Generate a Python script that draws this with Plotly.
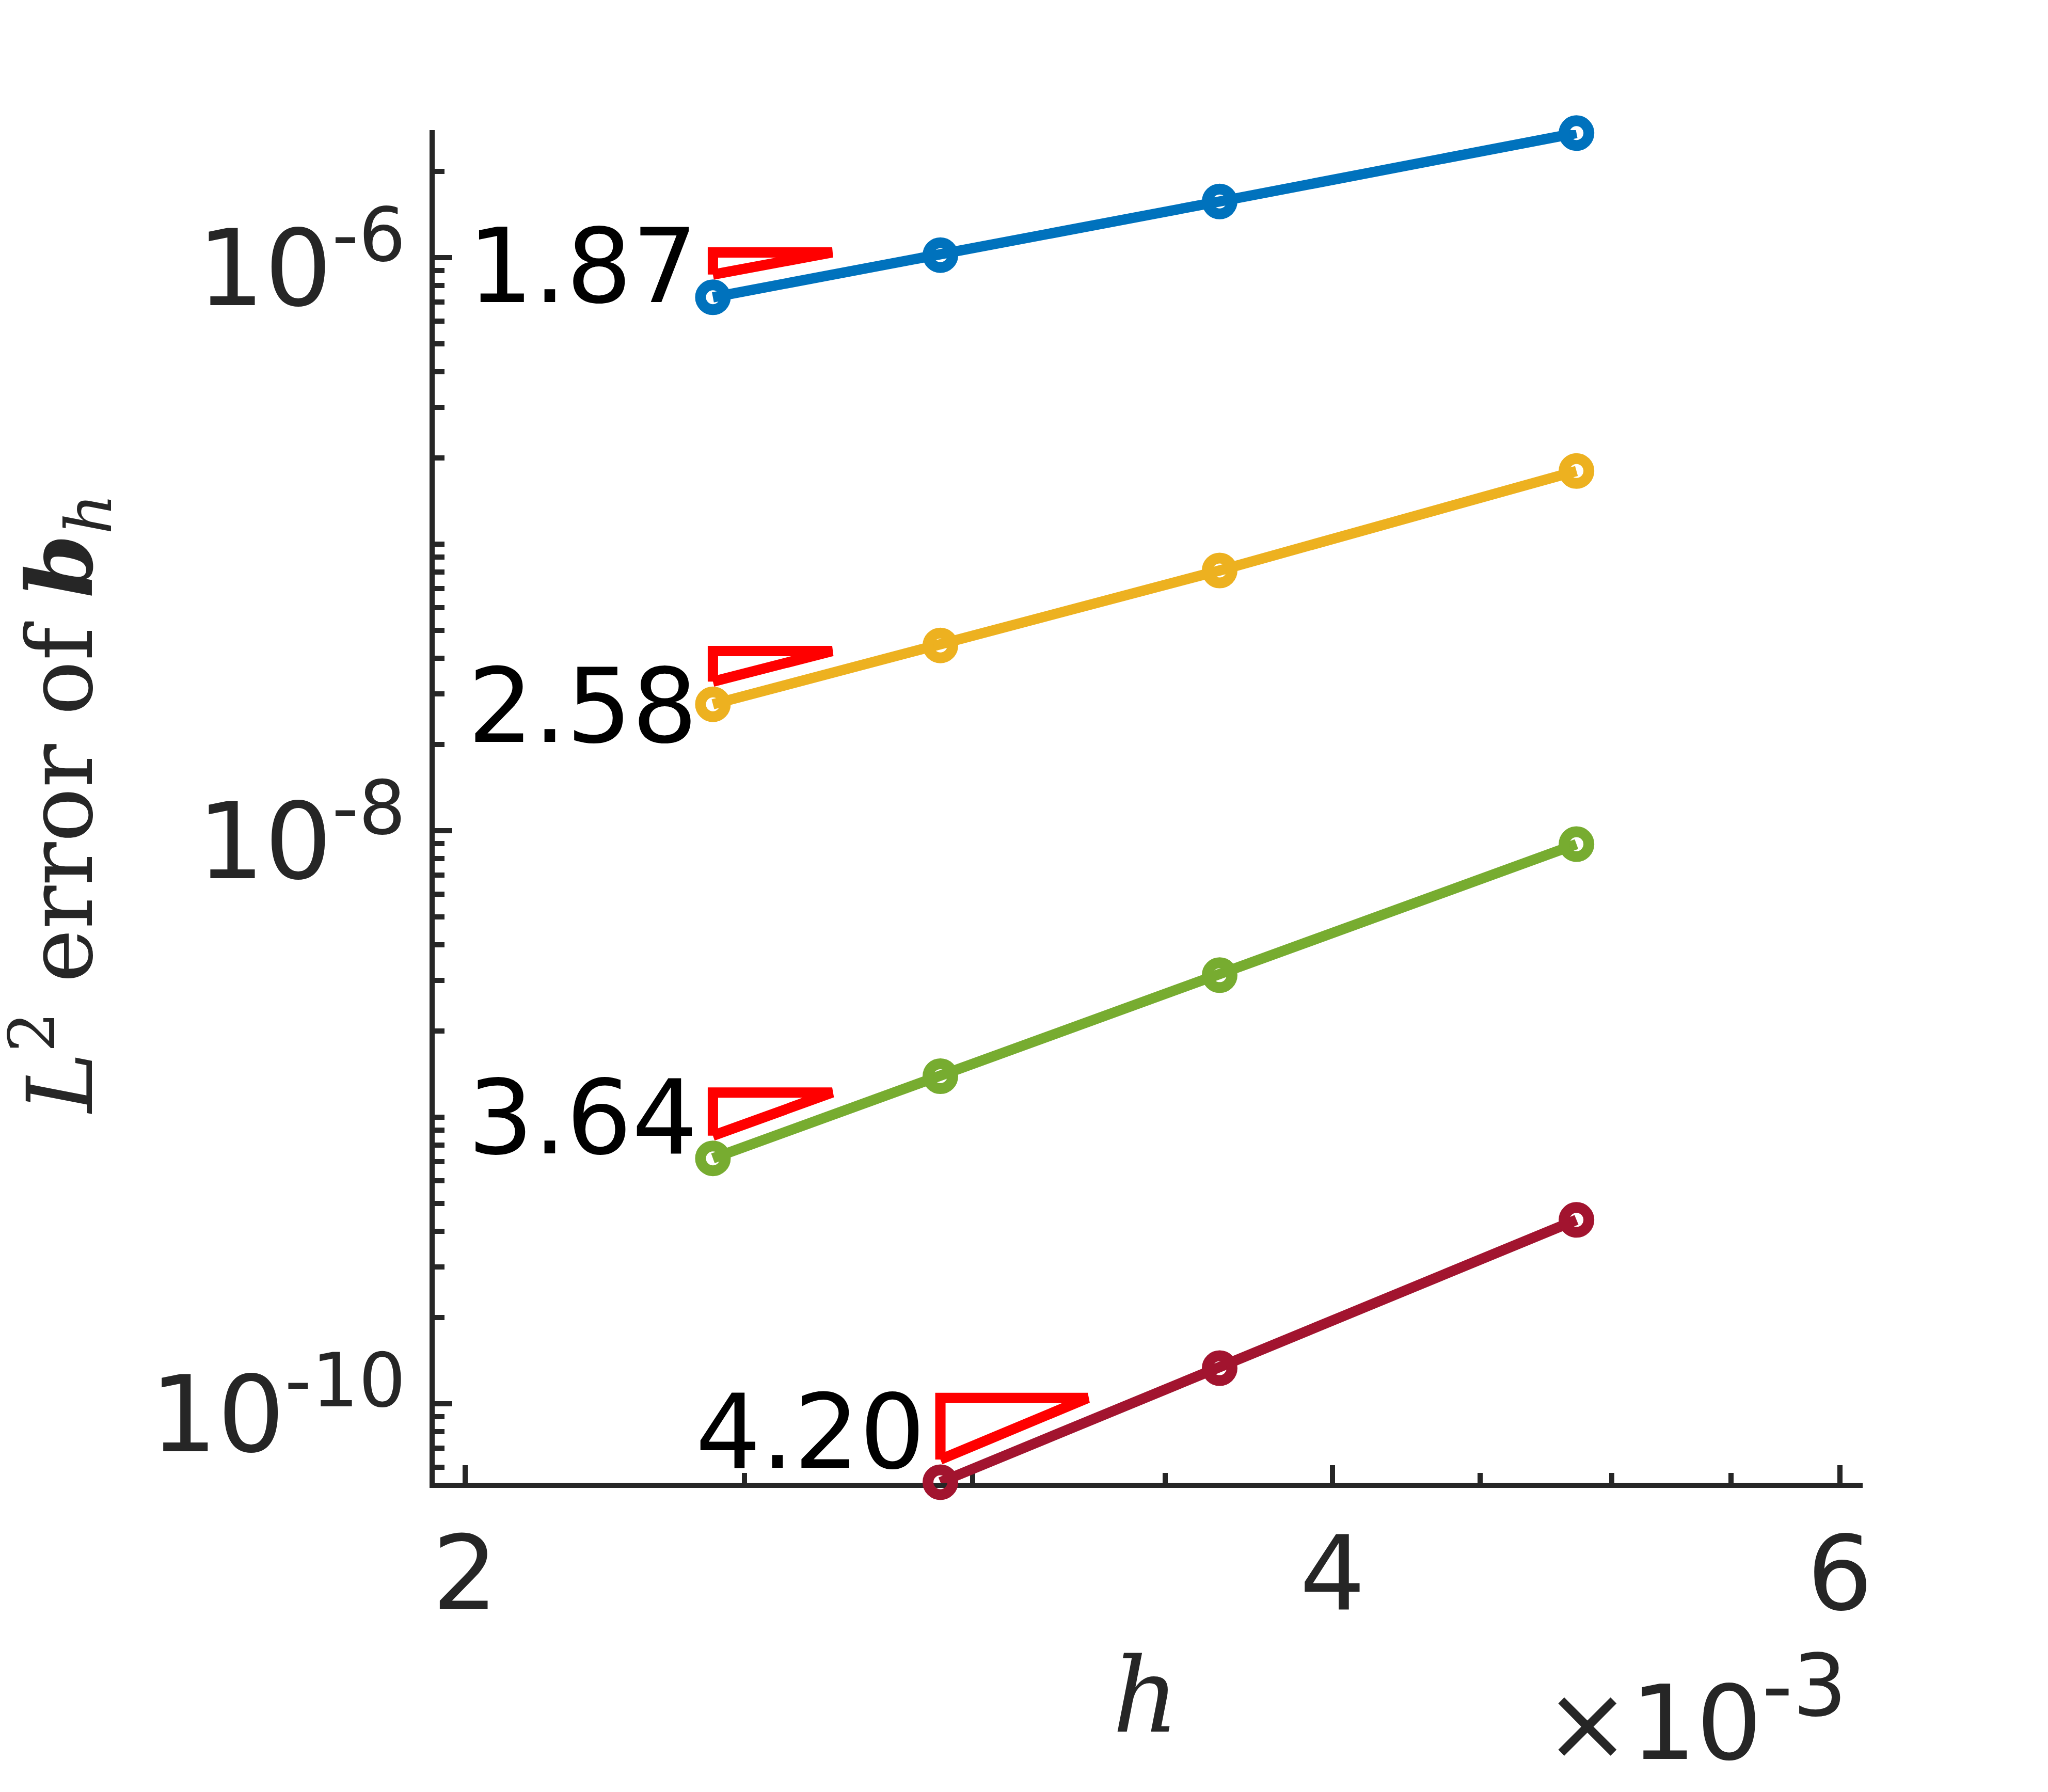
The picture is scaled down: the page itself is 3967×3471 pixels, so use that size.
import numpy as np
import plotly.graph_objects as go

# mesh size h and L2 errors of b_h
h = [2.438e-3, 2.924e-3, 3.655e-3, 4.861e-3]
err_blue = [7.27e-7, 1.02e-6, 1.57e-6, 2.72e-6]
err_yellow = [2.76e-8, 4.43e-8, 8.09e-8, 1.80e-7]
err_green = [7.18e-10, 1.39e-9, 3.13e-9, 8.97e-9]
err_red = [None, 5.32e-11, 1.33e-10, 4.38e-10]
rates = [1.87, 2.58, 3.64, 4.20]
rate_labels = ["1.87", "2.58", "3.64", "4.20"]

xtick_vals = [2e-3, 4e-3, 6e-3]
xtick_text = ["2", "4", "6"]
ytick_vals = [1e-10, 1e-8, 1e-6]
ytick_text = ["10<sup>-10</sup>", "10<sup>-8</sup>", "10<sup>-6</sup>"]

series = [err_blue, err_yellow, err_green, err_red]
colors = ["#0072BD", "#EDB120", "#77AC30", "#A2142F"]
tri_width = [1.1, 1.1, 1.1, 1.125]      # horizontal size of slope triangles
label_shift = [60, -3, 79, 97]          # label offset above first point (px)

axcol = "#262626"
fig = go.Figure()

for errs, col in zip(series, colors):
    fig.add_trace(go.Scatter(
        x=h, y=errs, mode="lines+markers", cliponaxis=False,
        line=dict(color=col, width=20),
        marker=dict(symbol="circle-open", size=48, color=col,
                    line=dict(width=21, color=col)),
        showlegend=False))

annotations = []
for errs, r, lab, w, dy in zip(series, rates, rate_labels, tri_width, label_shift):
    i0 = next(i for i, e in enumerate(errs) if e is not None)
    x0, e0 = h[i0], errs[i0]
    yb = 1.2 * e0
    yt = yb * w ** r
    fig.add_trace(go.Scatter(
        x=[x0, x0, x0 * w, x0], y=[yb, yt, yt, yb], mode="lines",
        cliponaxis=False, line=dict(color="#FF0000", width=20),
        showlegend=False))
    annotations.append(dict(
        x=np.log10(x0), y=np.log10(e0), xref="x", yref="y", text=lab,
        showarrow=False, xanchor="right", yanchor="middle",
        xshift=-28, yshift=dy,
        font=dict(family="DejaVu Sans", size=200, color="black")))

serif = "DejaVu Serif"
annotations.append(dict(
    x=-0.262, y=0.502, xref="paper", yref="paper", textangle=-90,
    text="<i>L</i><sup>2</sup> error of <b><i>b</i></b><sub><i>h</i></sub>",
    showarrow=False, xanchor="center", yanchor="middle",
    font=dict(family=serif, size=176, color=axcol)))
annotations.append(dict(
    x=0.498, y=-0.1575, xref="paper", yref="paper", text="<i>h</i>",
    showarrow=False, xanchor="center", yanchor="middle",
    font=dict(family=serif, size=200, color=axcol)))
annotations.append(dict(
    x=0.99, y=-0.168, xref="paper", yref="paper",
    text="×10<sup><span style='font-size:165px'>-3</span></sup>",
    showarrow=False, xanchor="right", yanchor="middle",
    font=dict(family="DejaVu Sans", size=200, color=axcol)))

x_minor = [2.5e-3, 3e-3, 3.5e-3, 4.5e-3, 5e-3, 5.5e-3]
y_minor = [m * 10.0 ** k for k in range(-11, -5) for m in range(2, 10)] + [1e-9, 1e-7]

fig.update_layout(
    width=3967, height=3471, autosize=False,
    margin=dict(l=842, r=359, t=252, b=599),
    plot_bgcolor="white", paper_bgcolor="white",
    annotations=annotations,
    xaxis=dict(type="log", range=[np.log10(1.952e-3), np.log10(6.11e-3)],
               tickmode="array", tickvals=xtick_vals, ticktext=xtick_text,
               ticks="inside", ticklen=34, tickwidth=10, tickcolor=axcol,
               minor=dict(tickmode="array", tickvals=x_minor, ticks="inside",
                          ticklen=19, tickwidth=10, tickcolor=axcol, showgrid=False),
               showline=True, linewidth=10, linecolor=axcol, showgrid=False,
               zeroline=False, layer="below traces", ticklabelstandoff=-5,
               tickfont=dict(family="DejaVu Sans", size=200, color=axcol)),
    yaxis=dict(type="log", range=[-10.276, -5.555],
               tickmode="array", tickvals=ytick_vals, ticktext=ytick_text,
               ticks="inside", ticklen=34, tickwidth=10, tickcolor=axcol,
               minor=dict(tickmode="array", tickvals=y_minor, ticks="inside",
                          ticklen=19, tickwidth=10, tickcolor=axcol, showgrid=False),
               showline=True, linewidth=10, linecolor=axcol, showgrid=False,
               zeroline=False, layer="below traces", ticklabelstandoff=5,
               ticklabelshift=20,
               tickfont=dict(family="DejaVu Sans", size=205, color=axcol)),
)

fig.write_html("out.html", config={"displayModeBar": False},
               post_script="document.body.style.margin='0';")
